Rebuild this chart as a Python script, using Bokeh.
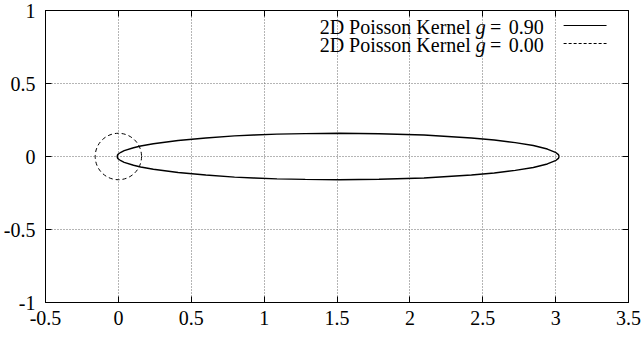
from bokeh.plotting import figure
from bokeh.models import Range1d, FixedTicker, LinearAxis, Label, Arrow, ColumnDataSource
from bokeh.embed import file_html
from bokeh.resources import INLINE

# ---- data ----
# 2D Poisson kernel, g = 0.90 : closed polar curve (x, y)
k090_x = [3.024, 3.019, 3.003, 2.943, 2.847, 2.723, 2.579, 2.422, 2.097, 1.788, 1.514,
          1.282, 1.088, 0.929, 0.797, 0.600, 0.410, 0.240, 0.153, 0.104, 0.040, 0.017,
          0.000, -0.006, -0.008,
          -0.006, 0.000, 0.017, 0.040, 0.104, 0.153, 0.240, 0.410, 0.600, 0.797, 0.929,
          1.088, 1.282, 1.514, 1.788, 2.097, 2.422, 2.579, 2.723, 2.847, 2.943, 3.003,
          3.019, 3.024]
k090_y = [0.000, 0.013, 0.026, 0.051, 0.075, 0.095, 0.113, 0.127, 0.147, 0.156, 0.159,
          0.157, 0.153, 0.147, 0.141, 0.127, 0.110, 0.087, 0.072, 0.060, 0.040, 0.029,
          0.017, 0.010, 0.000,
          -0.010, -0.017, -0.029, -0.040, -0.060, -0.072, -0.087, -0.110, -0.127, -0.141,
          -0.147, -0.153, -0.157, -0.159, -0.156, -0.147, -0.127, -0.113, -0.095, -0.075,
          -0.051, -0.026, -0.013, 0.000]
# 2D Poisson kernel, g = 0.00 : circle centred at origin
k000_cx = [0.0]
k000_cy = [0.0]
k000_r = [0.159]

series_labels = ["0.90", "0.00"]

x_ticks = [-0.5, 0, 0.5, 1, 1.5, 2, 2.5, 3, 3.5]
x_tick_labels = ["-0.5", "0", "0.5", "1", "1.5", "2", "2.5", "3", "3.5"]
y_ticks = [-1, -0.5, 0, 0.5, 1]
y_tick_labels = ["-1", "-0.5", "0", "0.5", "1"]

# ---- style / layout ----
FONT = "Liberation Serif"
FS = "20px"
W, H = 644, 338
FL, FR, FT, FB = 44, 628, 10, 302   # frame edges in pixels
X0, X1, Y0, Y1 = -0.5, 3.5, -1.0, 1.0

def sx(px):
    return X0 + (px - FL) * (X1 - X0) / (FR - FL)

def sy(py):
    return Y1 - (py - FT) * (Y1 - Y0) / (FB - FT)

p = figure(width=W, height=H, output_backend="svg", toolbar_location=None,
           x_range=Range1d(X0, X1), y_range=Range1d(Y0, Y1),
           min_border_left=FL, min_border_right=W - FR,
           min_border_top=FT, min_border_bottom=H - FB)
p.background_fill_color = "white"
p.border_fill_color = "white"
p.outline_line_color = "black"
p.outline_line_width = 1
p.outline_line_alpha = 1

for ax, ticks, labels in ((p.xaxis[0], x_ticks, x_tick_labels), (p.yaxis[0], y_ticks, y_tick_labels)):
    ax.ticker = FixedTicker(ticks=ticks)
    ax.major_label_overrides = {t: l for t, l in zip(ticks, labels)}
    ax.major_label_text_font = FONT
    ax.major_label_text_font_size = FS
    ax.major_label_text_color = "black"
    ax.major_tick_in = 6
    ax.major_tick_out = 0
    ax.minor_tick_in = 0
    ax.minor_tick_out = 0
    ax.axis_line_color = "black"
    ax.major_tick_line_color = "black"
    ax.major_tick_line_width = 1
p.xaxis[0].major_label_standoff = 8
p.yaxis[0].major_label_standoff = 10

for loc, ticks in (("above", x_ticks), ("right", y_ticks)):
    ax = LinearAxis(ticker=FixedTicker(ticks=ticks))
    ax.major_label_overrides = {t: "" for t in ticks}
    ax.major_label_text_font_size = "0px"
    ax.major_label_standoff = 0
    ax.major_tick_in = 6
    ax.major_tick_out = 0
    ax.minor_tick_in = 0
    ax.minor_tick_out = 0
    ax.axis_line_color = "black"
    ax.major_tick_line_color = "black"
    ax.major_tick_line_width = 1
    p.add_layout(ax, loc)

for g, ticks in ((p.xgrid[0], x_ticks), (p.ygrid[0], y_ticks)):
    g.ticker = FixedTicker(ticks=ticks)
    g.grid_line_color = "#6a6a6a"
    g.grid_line_dash = "1 2"
    g.grid_line_width = 1

src = ColumnDataSource(dict(x=k090_x, y=k090_y))
p.line("x", "y", source=src, line_color="black", line_width=1.4)
p.ellipse(x=k000_cx, y=k000_cy, width=[2 * r for r in k000_r], height=[2 * r for r in k000_r],
          fill_color=None, line_color="black", line_width=1, line_dash="4 3")

# ---- legend (text left, sample right) ----
rows = [(25, "solid"), (43, "3 2")]
for (ly, dash), lab in zip(rows, series_labels):
    ty = sy(ly + 1)
    common = dict(y=ty, text_baseline="middle", text_font=FONT, text_font_size=FS, text_color="black")
    p.add_layout(Label(x=sx(470), text="2D Poisson Kernel", text_align="right", **common))
    p.add_layout(Label(x=sx(475), text="g", text_align="left", text_font_style="italic", **common))
    p.add_layout(Label(x=sx(495), text="=", text_align="center", **common))
    p.add_layout(Label(x=sx(508), text=lab, text_align="left", **common))
    p.add_layout(Arrow(end=None, x_start=sx(563), y_start=sy(ly), x_end=sx(606), y_end=sy(ly),
                       line_color="black", line_width=1, line_dash=dash))

open("out.html", "w").write(file_html(p, INLINE))
